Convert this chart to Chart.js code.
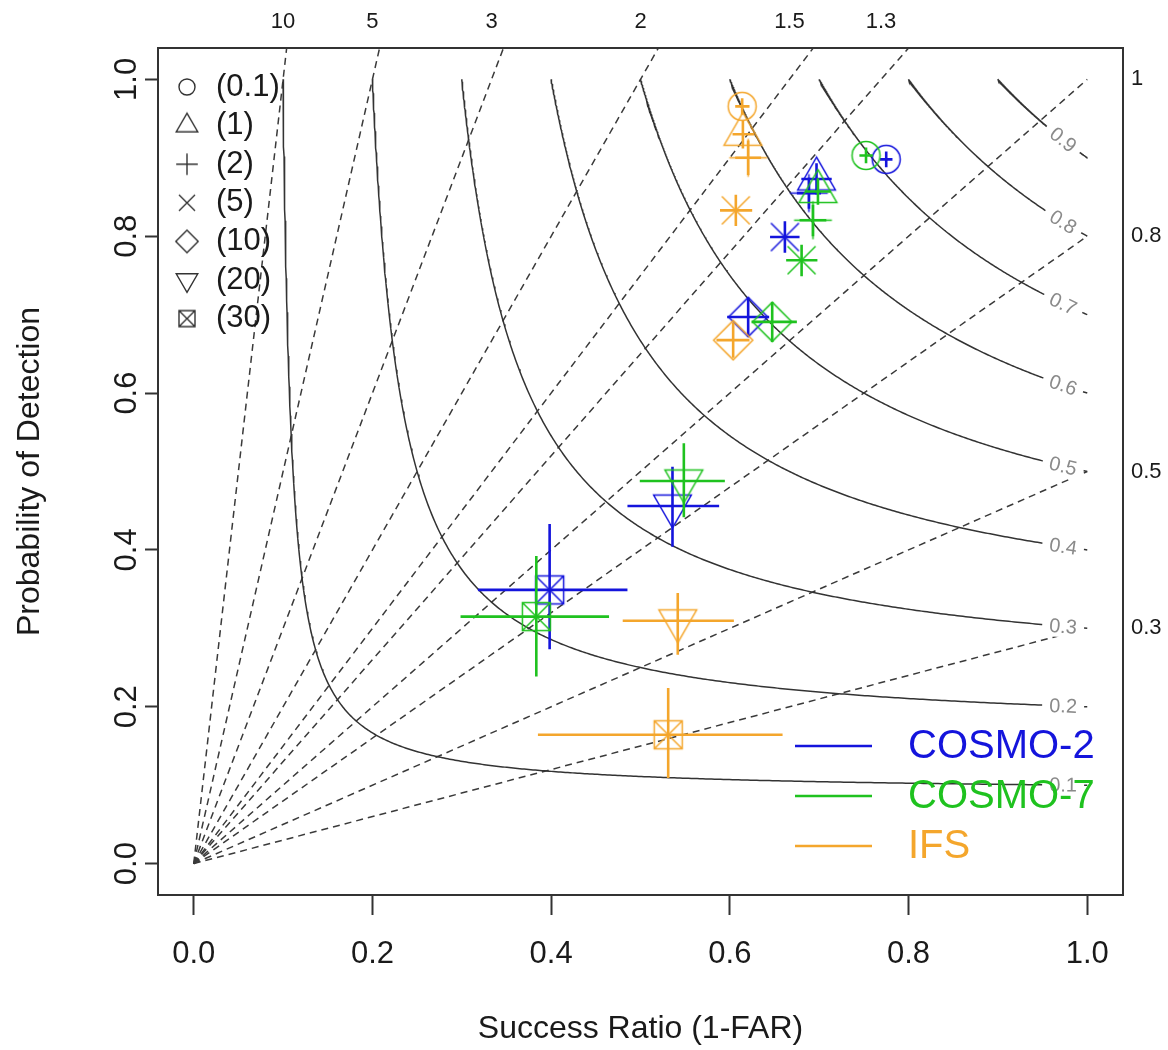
<!DOCTYPE html>
<html><head><meta charset="utf-8">
<script src="https://cdn.jsdelivr.net/npm/chart.js@4"></script>
<style>html,body{margin:0;padding:0;background:#fff}canvas{display:block}</style>
</head><body>
<canvas id="c" width="1168" height="1050"></canvas>
<script>
// ---------- data ----------
const thresholdLabels = ['(0.1)', '(1)', '(2)', '(5)', '(10)', '(20)', '(30)'];
const symbolTypes = ['circle', 'triangle', 'plus', 'cross', 'diamond', 'invtriangle', 'boxcross'];
const modelNames = ['COSMO-2', 'COSMO-7', 'IFS'];
const modelColors = ['#1414dc', '#1fc21f', '#f4a62c'];

const cosmo2SR    = [0.775, 0.697, 0.6885, 0.6616, 0.6205, 0.5358, 0.3983];
const cosmo2POD   = [0.898, 0.873, 0.855, 0.799, 0.697, 0.456, 0.349];
const cosmo2SRlo  = [0.768, 0.680, 0.675, 0.645, 0.597, 0.4854, 0.318];
const cosmo2SRhi  = [0.782, 0.714, 0.702, 0.678, 0.644, 0.588, 0.4854];
const cosmo2PODlo = [0.888, 0.853, 0.835, 0.779, 0.672, 0.4042, 0.2735];
const cosmo2PODhi = [0.908, 0.893, 0.875, 0.819, 0.722, 0.5061, 0.4331];

const cosmo7SR    = [0.7524, 0.6986, 0.693, 0.6803, 0.6474, 0.5485, 0.3834];
const cosmo7POD   = [0.903, 0.857, 0.8204, 0.7694, 0.6908, 0.4879, 0.315];
const cosmo7SRlo  = [0.745, 0.684, 0.678, 0.663, 0.6243, 0.4992, 0.2986];
const cosmo7SRhi  = [0.760, 0.713, 0.708, 0.698, 0.675, 0.5944, 0.4648];
const cosmo7PODlo = [0.893, 0.840, 0.800, 0.749, 0.665, 0.4416, 0.2386];
const cosmo7PODhi = [0.913, 0.874, 0.840, 0.789, 0.716, 0.5359, 0.3924];

const ifsSR    = [0.6138, 0.6146, 0.6205, 0.6067, 0.6037, 0.5417, 0.531];
const ifsPOD   = [0.9656, 0.930, 0.900, 0.833, 0.6675, 0.3096, 0.1643];
const ifsSRlo  = [0.606, 0.603, 0.606, 0.589, 0.585, 0.4801, 0.3852];
const ifsSRhi  = [0.622, 0.627, 0.635, 0.625, 0.622, 0.6045, 0.659];
const ifsPODlo = [0.955, 0.912, 0.878, 0.813, 0.645, 0.2662, 0.1092];
const ifsPODhi = [0.976, 0.948, 0.922, 0.853, 0.690, 0.3452, 0.2238];

const biasValues = [10, 5, 3, 2, 1.5, 1.3, 1, 0.8, 0.5, 0.3];
const topBiasLabels = ['10', '5', '3', '2', '1.5', '1.3'];
const rightBiasLabels = ['1', '0.8', '0.5', '0.3'];
const csiLevels = [0.1, 0.2, 0.3, 0.4, 0.5, 0.6, 0.7, 0.8, 0.9];
const xTickValues = [0, 0.2, 0.4, 0.6, 0.8, 1.0];
const yTickValues = [0, 0.2, 0.4, 0.6, 0.8, 1.0];

// ---------- helpers ----------
const FONT = "'Liberation Sans', Arial, Helvetica, sans-serif";
Chart.defaults.font.family = FONT;

function makeSymbol(type, color, R, lw) {
  const size = Math.ceil(R * 2 * 1.7 + lw * 2 + 4);
  const cv = document.createElement('canvas');
  cv.width = size; cv.height = size;
  const g = cv.getContext('2d');
  const c = size / 2;
  g.strokeStyle = color; g.lineWidth = lw; g.lineJoin = 'miter';
  g.beginPath();
  const r = 1.555 * R, xc = 1.3468 * R, yc = 0.7776 * R;
  switch (type) {
    case 'circle': g.arc(c, c, R, 0, Math.PI * 2); break;
    case 'triangle': g.moveTo(c, c - r); g.lineTo(c + xc, c + yc); g.lineTo(c - xc, c + yc); g.closePath(); break;
    case 'invtriangle': g.moveTo(c, c + r); g.lineTo(c + xc, c - yc); g.lineTo(c - xc, c - yc); g.closePath(); break;
    case 'plus': { const h = 1.35 * R; g.moveTo(c - h, c); g.lineTo(c + h, c); g.moveTo(c, c - h); g.lineTo(c, c + h); break; }
    case 'cross': g.moveTo(c - R, c - R); g.lineTo(c + R, c + R); g.moveTo(c - R, c + R); g.lineTo(c + R, c - R); break;
    case 'diamond': { const d = 1.4 * R; g.moveTo(c, c - d); g.lineTo(c + d, c); g.lineTo(c, c + d); g.lineTo(c - d, c); g.closePath(); break; }
    case 'boxcross': g.rect(c - R, c - R, 2 * R, 2 * R); g.moveTo(c - R, c - R); g.lineTo(c + R, c + R); g.moveTo(c - R, c + R); g.lineTo(c + R, c - R); break;
  }
  g.stroke();
  return cv;
}

function errData(sr, pod, srLo, srHi, podLo, podHi) {
  const out = [];
  for (let i = 0; i < sr.length; i++) {
    out.push({x: srLo[i], y: pod[i]}, {x: srHi[i], y: pod[i]}, {x: sr[i], y: null});
    out.push({x: sr[i], y: podLo[i]}, {x: sr[i], y: podHi[i]}, {x: sr[i], y: null});
  }
  return out;
}
function ptData(sr, pod) { return sr.map((v, i) => ({x: v, y: pod[i]})); }
function csiPOD(c, sr) { return 1 / (1 / c + 1 - 1 / sr); }
function csiCurve(c) {
  const pts = []; const n = 400;
  for (let i = 0; i <= n; i++) { const t = i / n; const sr = c + (1 - c) * t * t; pts.push({x: sr, y: csiPOD(c, sr)}); }
  return pts;
}

const datasets = [];
biasValues.forEach(b => datasets.push({
  data: [{x: 0, y: 0}, {x: 1, y: b}], showLine: true, pointRadius: 0,
  borderColor: '#3a3a3a', borderWidth: 1.5, borderDash: [7, 5], order: 100, tension: 0
}));
csiLevels.forEach(c => datasets.push({
  data: csiCurve(c), showLine: true, pointRadius: 0,
  borderColor: '#333', borderWidth: 1.5, order: 90, tension: 0
}));
const modelSeries = [
  [cosmo2SR, cosmo2POD, cosmo2SRlo, cosmo2SRhi, cosmo2PODlo, cosmo2PODhi],
  [cosmo7SR, cosmo7POD, cosmo7SRlo, cosmo7SRhi, cosmo7PODlo, cosmo7PODhi],
  [ifsSR, ifsPOD, ifsSRlo, ifsSRhi, ifsPODlo, ifsPODhi]
];
modelSeries.forEach((s, m) => {
  datasets.push({
    label: modelNames[m] + ' CI', data: errData(...s), showLine: true, spanGaps: false, pointRadius: 0,
    borderColor: modelColors[m], borderWidth: 2.6, order: 60 - m * 2
  });
  datasets.push({
    label: modelNames[m], data: ptData(s[0], s[1]), showLine: false, pointRadius: 6,
    pointStyle: symbolTypes.map(t => makeSymbol(t, modelColors[m], 14, 1.5)), order: 59 - m * 2
  });
});

const deco = {
  id: 'deco',
  afterDatasetsDraw(chart) {
    const {ctx, chartArea: a, scales: {x, y}} = chart;
    ctx.save();
    ctx.font = '20px ' + FONT;
    ctx.textAlign = 'center'; ctx.textBaseline = 'middle';
    csiLevels.forEach(c => {
      const s = 0.973;
      const px = x.getPixelForValue(s), py = y.getPixelForValue(csiPOD(c, s));
      const ang = Math.atan2(y.getPixelForValue(csiPOD(c, s + 0.005)) - y.getPixelForValue(csiPOD(c, s - 0.005)),
                             x.getPixelForValue(s + 0.005) - x.getPixelForValue(s - 0.005));
      ctx.save(); ctx.translate(px, py); ctx.rotate(ang);
      ctx.fillStyle = '#fff'; ctx.fillRect(-21, -11, 42, 22);
      ctx.fillStyle = '#8a8a8a'; ctx.fillText(String(c), 0, 1);
      ctx.restore();
    });
    ctx.strokeStyle = '#333'; ctx.lineWidth = 2;
    ctx.strokeRect(a.left, a.top, a.right - a.left, a.bottom - a.top);
    ctx.fillStyle = '#1a1a1a'; ctx.font = '22px ' + FONT;
    ctx.textAlign = 'center'; ctx.textBaseline = 'middle';
    topBiasLabels.forEach(t => ctx.fillText(t, x.getPixelForValue(1 / parseFloat(t)), 22));
    ctx.textAlign = 'left';
    rightBiasLabels.forEach(t => ctx.fillText(t, 1131, y.getPixelForValue(parseFloat(t))));
    ctx.font = '31px ' + FONT; ctx.fillStyle = '#1a1a1a'; ctx.textAlign = 'left';
    thresholdLabels.forEach((t, i) => {
      const yy = 87 + i * 38.6;
      const img = makeSymbol(symbolTypes[i], '#333', 8, 1.4);
      ctx.drawImage(img, 187 - img.width / 2, yy - img.height / 2);
      ctx.fillText(t, 216, yy);
    });
    ctx.font = '40px ' + FONT;
    modelNames.forEach((n, i) => {
      const yy = 746 + i * 50;
      ctx.strokeStyle = modelColors[i]; ctx.lineWidth = 2.6;
      ctx.beginPath(); ctx.moveTo(795, yy); ctx.lineTo(872, yy); ctx.stroke();
      ctx.fillStyle = modelColors[i]; ctx.fillText(n, 908, yy + 1);
    });
    ctx.restore();
  }
};

function zeroPad(s) { s.paddingTop = 0; s.paddingBottom = 0; s.paddingLeft = 0; s.paddingRight = 0; }

new Chart(document.getElementById('c'), {
  type: 'scatter',
  data: {datasets},
  options: {
    responsive: false, animation: false, devicePixelRatio: 1,
    layout: {padding: {left: 0, right: 45, top: 48, bottom: 0}},
    plugins: {legend: {display: false}, tooltip: {enabled: false}},
    scales: {
      x: {
        type: 'linear', position: 'bottom', min: -0.04, max: 1.04,
        afterBuildTicks: s => { s.ticks = xTickValues.map(v => ({value: v})); },
        afterFit: s => { s.height = 155; zeroPad(s); },
        ticks: {callback: v => Number(v).toFixed(1), font: {size: 31}, color: '#1a1a1a', padding: 21, maxRotation: 0},
        grid: {drawOnChartArea: false, drawTicks: true, tickLength: 20, tickColor: '#333', tickWidth: 2},
        border: {display: false},
        title: {display: true, text: 'Success Ratio (1-FAR)', font: {size: 32}, color: '#1a1a1a', padding: {top: 0, bottom: 2}}
      },
      y: {
        type: 'linear', position: 'left', min: -0.04, max: 1.04,
        afterBuildTicks: s => { s.ticks = yTickValues.map(v => ({value: v})); },
        afterFit: s => { s.width = 158; zeroPad(s); },
        ticks: {callback: v => Number(v).toFixed(1), font: {size: 31}, color: '#1a1a1a', padding: -4, minRotation: 90, maxRotation: 90, crossAlign: 'center'},
        grid: {drawOnChartArea: false, drawTicks: true, tickLength: 13, tickColor: '#333', tickWidth: 2},
        border: {display: false},
        title: {display: true, text: 'Probability of Detection', font: {size: 32}, color: '#1a1a1a', padding: {top: 11, bottom: 0}}
      }
    }
  },
  plugins: [deco]
});
</script>
</body></html>
